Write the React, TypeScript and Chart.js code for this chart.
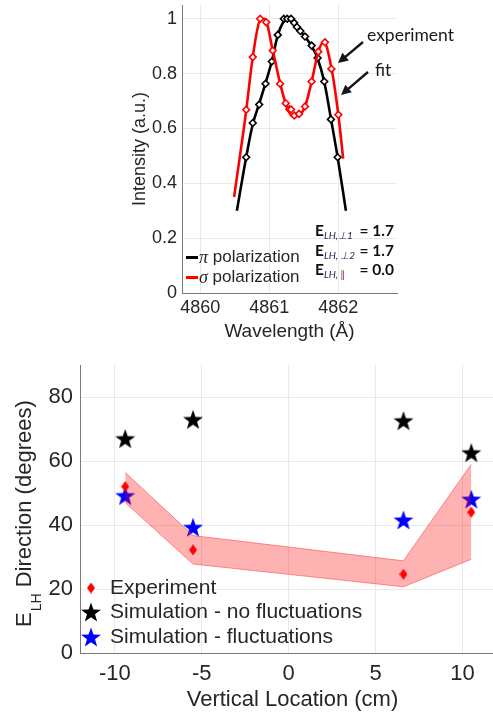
import React, { useEffect, useRef } from 'react';
import { Chart, registerables } from 'chart.js';

Chart.register(...registerables);

// ---- Spectrum panel (H-beta line, two polarizations) ----
const wavelengthTicks = [4860, 4861, 4862];
const intensityTicks = [0, 0.2, 0.4, 0.6, 0.8, 1];

const piExpX = [4860.665, 4860.76, 4860.853, 4860.945, 4861.036, 4861.123, 4861.21, 4861.26, 4861.315, 4861.36, 4861.4, 4861.45, 4861.517, 4861.613, 4861.7, 4861.796, 4861.893, 4861.99];
const piExpY = [0.495, 0.62, 0.687, 0.763, 0.844, 0.941, 1.0, 1.0, 1.0, 0.985, 0.97, 0.955, 0.935, 0.902, 0.857, 0.771, 0.633, 0.495];
const piFitX = [4860.53, 4860.665, 4860.76, 4860.853, 4860.945, 4861.036, 4861.123, 4861.21, 4861.28, 4861.36, 4861.45, 4861.517, 4861.613, 4861.7, 4861.796, 4861.893, 4861.99, 4862.11];
const piFitY = [0.3, 0.495, 0.615, 0.69, 0.765, 0.845, 0.94, 0.99, 1.0, 0.985, 0.955, 0.935, 0.9, 0.855, 0.77, 0.635, 0.495, 0.3];

const sigmaExpX = [4860.665, 4860.76, 4860.867, 4860.954, 4861.05, 4861.156, 4861.238, 4861.29, 4861.315, 4861.363, 4861.431, 4861.517, 4861.613, 4861.71, 4861.806, 4861.9, 4862.0];
const sigmaExpY = [0.668, 0.86, 1.0, 0.987, 0.884, 0.763, 0.692, 0.67, 0.669, 0.647, 0.653, 0.68, 0.771, 0.88, 0.914, 0.817, 0.65];
const sigmaFitX = [4860.49, 4860.665, 4860.76, 4860.867, 4860.93, 4861.05, 4861.156, 4861.238, 4861.33, 4861.4, 4861.517, 4861.613, 4861.71, 4861.79, 4861.9, 4862.0, 4862.07];
const sigmaFitY = [0.35, 0.665, 0.86, 0.995, 1.0, 0.885, 0.765, 0.69, 0.645, 0.645, 0.68, 0.77, 0.88, 0.915, 0.82, 0.65, 0.49];

const fieldLabels = ['LH,\u22A51', 'LH, \u22A52', 'LH, \u2225'];
const fieldValues = ['= 1.7', '= 1.7', '= 0.0'];

// ---- Direction panel ----
const locations = [-9.4, -5.5, 6.6, 10.5];
const experiment = [52, 32.2, 24.6, 44];
const simNoFluct = [67, 73, 72.6, 62.6];
const simFluct = [49.2, 39.3, 41.6, 48.1];
const bandUpper = [56.4, 36.7, 28.8, 59];
const bandLower = [47, 27.8, 20.7, 29.3];
const locationTicks = [-10, -5, 0, 5, 10];
const directionTicks = [0, 20, 40, 60, 80];

const SANS = '"Liberation Sans", Arial, sans-serif';
const NOTE = 'Lato, "Open Sans", sans-serif';
const TEXT = '#262626';
const GRID = '#e9e9e9';
const AXIS = '#7a7a7a';

const TOP_H = 345;
const BOT_H = 368;

const pts = (xs: number[], ys: number[]) => xs.map((x, i) => ({ x, y: ys[i] }));

function makeStar(color: string, size = 22): HTMLCanvasElement {
  const c = document.createElement('canvas');
  c.width = size;
  c.height = size;
  const g = c.getContext('2d')!;
  const R = size / 2 - 0.5;
  const r = R * 0.4;
  const cx = size / 2;
  const cy = size / 2 + 1;
  g.beginPath();
  for (let i = 0; i < 10; i++) {
    const a = -Math.PI / 2 + (i * Math.PI) / 5;
    const rad = i % 2 === 0 ? R : r;
    g.lineTo(cx + rad * Math.cos(a), cy + rad * Math.sin(a));
  }
  g.closePath();
  g.fillStyle = color;
  g.fill();
  return c;
}

function makeDiamond(color: string, w = 8, h = 11): HTMLCanvasElement {
  const c = document.createElement('canvas');
  c.width = w;
  c.height = h;
  const g = c.getContext('2d')!;
  g.beginPath();
  g.moveTo(w / 2, 0);
  g.lineTo(w, h / 2);
  g.lineTo(w / 2, h);
  g.lineTo(0, h / 2);
  g.closePath();
  g.fillStyle = color;
  g.fill();
  return c;
}

function drawArrow(ctx: CanvasRenderingContext2D, x1: number, y1: number, x2: number, y2: number) {
  const a = Math.atan2(y2 - y1, x2 - x1);
  const L = 10;
  const W = 5;
  ctx.beginPath();
  ctx.moveTo(x1, y1);
  ctx.lineTo(x2 - (L - 2) * Math.cos(a), y2 - (L - 2) * Math.sin(a));
  ctx.lineWidth = 2.4;
  ctx.strokeStyle = '#151515';
  ctx.stroke();
  ctx.beginPath();
  ctx.moveTo(x2, y2);
  ctx.lineTo(x2 - L * Math.cos(a) + W * Math.sin(a), y2 - L * Math.sin(a) - W * Math.cos(a));
  ctx.lineTo(x2 - L * Math.cos(a) - W * Math.sin(a), y2 - L * Math.sin(a) + W * Math.cos(a));
  ctx.closePath();
  ctx.fillStyle = '#151515';
  ctx.fill();
}

// pin axis box sizes so the plot area lands at fixed pixel positions
const fixBox = (w?: number, h?: number) => (scale: any) => {
  if (w !== undefined) scale.width = w;
  if (h !== undefined) scale.height = h;
  scale.paddingTop = 0;
  scale.paddingBottom = 0;
  scale.paddingLeft = 0;
  scale.paddingRight = 0;
};

const spectrumDecor = {
  id: 'spectrumDecor',
  afterDraw(chart: any) {
    const ctx: CanvasRenderingContext2D = chart.ctx;
    const { left, right, top, bottom } = chart.chartArea;
    ctx.save();
    ctx.fillStyle = TEXT;
    ctx.textAlign = 'center';
    ctx.textBaseline = 'middle';
    ctx.font = `19px ${SANS}`;
    ctx.fillText('Wavelength (\u00C5)', (left + right) / 2, 332);
    ctx.save();
    ctx.translate(140, (top + bottom) / 2);
    ctx.rotate(-Math.PI / 2);
    ctx.font = `18px ${SANS}`;
    ctx.fillText('Intensity (a.u.)', 0, 0);
    ctx.restore();

    // legend
    const legend = [
      { color: '#000000', sym: '\u03C0', y: 257.5 },
      { color: '#ff0000', sym: '\u03C3', y: 277.5 },
    ];
    ctx.textAlign = 'left';
    legend.forEach((it) => {
      ctx.beginPath();
      ctx.moveTo(186, it.y);
      ctx.lineTo(198, it.y);
      ctx.lineWidth = 3;
      ctx.strokeStyle = it.color;
      ctx.stroke();
      ctx.fillStyle = TEXT;
      ctx.font = `italic 18px "Liberation Serif", serif`;
      ctx.fillText(it.sym, 199, it.y + 1);
      const w = ctx.measureText(it.sym).width;
      ctx.font = `17px ${SANS}`;
      ctx.fillText(' polarization', 199 + w, it.y);
    });

    // experiment / fit callouts
    ctx.fillStyle = '#1a1a1a';
    ctx.font = `17.5px ${NOTE}`;
    ctx.fillText('experiment', 367, 35);
    ctx.fillText('fit', 375, 70);
    drawArrow(ctx, 363, 42, 338, 63);
    drawArrow(ctx, 368, 72, 341, 95);

    // field amplitudes
    const ys = [231, 250.5, 270];
    fieldLabels.forEach((lab, i) => {
      const y = ys[i];
      ctx.textAlign = 'left';
      ctx.fillStyle = '#111111';
      ctx.font = `bold 15.5px ${NOTE}`;
      ctx.fillText('E', 315, y);
      let x = 315 + ctx.measureText('E').width;
      const parts = i === 2 ? ['LH, ', '\u2225'] : [lab];
      parts.forEach((p, k) => {
        ctx.font = k === 0 ? `italic 10px ${NOTE}` : `10px "DejaVu Sans", sans-serif`;
        ctx.fillStyle = k === 0 ? '#23285e' : '#8c3b3b';
        ctx.fillText(p, x, y + 5);
        x += ctx.measureText(p).width;
      });
      ctx.textAlign = 'right';
      ctx.fillStyle = '#111111';
      ctx.font = `bold 15.5px ${NOTE}`;
      ctx.fillText(fieldValues[i], 394, y);
    });
    ctx.restore();
  },
};

function directionDecor(diamond: HTMLCanvasElement, blackStar: HTMLCanvasElement, blueStar: HTMLCanvasElement) {
  return {
    id: 'directionDecor',
    afterDraw(chart: any) {
      const ctx: CanvasRenderingContext2D = chart.ctx;
      const off = TOP_H;
      ctx.save();
      ctx.fillStyle = TEXT;
      ctx.textBaseline = 'middle';
      ctx.textAlign = 'center';
      ctx.font = `22px ${SANS}`;
      ctx.fillText('Vertical Location (cm)', 292.5, 700 - off);

      // rotated y title with subscript
      ctx.save();
      ctx.translate(24.5, 627 - off);
      ctx.rotate(-Math.PI / 2);
      ctx.textAlign = 'left';
      ctx.font = `22px ${SANS}`;
      ctx.fillText('E', 0, 0);
      let x = ctx.measureText('E').width + 1;
      ctx.font = `14px ${SANS}`;
      ctx.fillText('LH', x, 13);
      x += ctx.measureText('LH').width;
      ctx.font = `22px ${SANS}`;
      ctx.fillText(' Direction (degrees)', x, 0);
      ctx.restore();

      // legend
      const rows = [
        { img: diamond, label: 'Experiment', y: 588 },
        { img: blackStar, label: 'Simulation - no fluctuations', y: 612 },
        { img: blueStar, label: 'Simulation - fluctuations', y: 637 },
      ];
      ctx.textAlign = 'left';
      ctx.font = `21px ${SANS}`;
      rows.forEach((r) => {
        ctx.drawImage(r.img, 91 - r.img.width / 2, r.y - off - r.img.height / 2);
        ctx.fillStyle = TEXT;
        ctx.fillText(r.label, 110, r.y - off);
      });
      ctx.restore();
    },
  };
}

export default function App() {
  const topRef = useRef<HTMLCanvasElement>(null);
  const botRef = useRef<HTMLCanvasElement>(null);

  useEffect(() => {
    const diamond = makeDiamond('#ff0000');
    const blackStar = makeStar('#000000');
    const blueStar = makeStar('#0000ff');

    const top = new Chart(topRef.current!, {
      type: 'scatter',
      data: {
        datasets: [
          {
            label: 'pi fit',
            data: pts(piFitX, piFitY),
            showLine: true,
            cubicInterpolationMode: 'monotone',
            borderColor: '#000000',
            borderWidth: 2.6,
            pointRadius: 0,
            order: 4,
          },
          {
            label: 'pi experiment',
            data: pts(piExpX, piExpY),
            pointStyle: 'rectRot',
            pointRadius: 3.4,
            borderWidth: 1.6,
            borderColor: '#000000',
            backgroundColor: '#ffffff',
            order: 3,
          },
          {
            label: 'sigma fit',
            data: pts(sigmaFitX, sigmaFitY),
            showLine: true,
            cubicInterpolationMode: 'monotone',
            borderColor: '#ff0000',
            borderWidth: 2.6,
            pointRadius: 0,
            order: 2,
          },
          {
            label: 'sigma experiment',
            data: pts(sigmaExpX, sigmaExpY),
            pointStyle: 'rectRot',
            pointRadius: 3.4,
            borderWidth: 1.6,
            borderColor: '#ff0000',
            backgroundColor: '#ffffff',
            order: 1,
          },
        ],
      },
      options: {
        responsive: false,
        animation: false,
        events: [],
        layout: { autoPadding: false, padding: { left: 0, right: 96, top: 5, bottom: 0 } },
        plugins: { legend: { display: false }, tooltip: { enabled: false } },
        scales: {
          x: {
            type: 'linear',
            min: 4859.735,
            max: 4862.85,
            afterFit: fixBox(undefined, TOP_H - 293),
            afterBuildTicks: (s: any) => {
              s.ticks = wavelengthTicks.map((v) => ({ value: v }));
            },
            grid: { color: GRID, drawTicks: false },
            border: { display: true, color: AXIS, width: 1 },
            ticks: {
              padding: 4,
              color: TEXT,
              font: { family: SANS, size: 18 },
              callback: (v: any) => String(v),
            },
          },
          y: {
            type: 'linear',
            min: 0,
            max: 1.05,
            afterFit: fixBox(182, undefined),
            afterBuildTicks: (s: any) => {
              s.ticks = intensityTicks.map((v) => ({ value: v }));
            },
            grid: { color: GRID, drawTicks: false },
            border: { display: true, color: AXIS, width: 1 },
            ticks: {
              padding: 5,
              color: TEXT,
              font: { family: SANS, size: 18 },
              callback: (v: any) => String(v),
            },
          },
        },
      },
      plugins: [spectrumDecor],
    } as any);

    const bot = new Chart(botRef.current!, {
      type: 'scatter',
      data: {
        datasets: [
          {
            label: 'Experiment',
            data: pts(locations, experiment),
            pointStyle: diamond,
            order: 0,
          },
          {
            label: 'band lower',
            data: pts(locations, bandLower),
            showLine: true,
            borderColor: 'rgba(255,60,60,0.55)',
            borderWidth: 1,
            pointRadius: 0,
            fill: false,
            order: 1,
          },
          {
            label: 'band upper',
            data: pts(locations, bandUpper),
            showLine: true,
            borderColor: 'rgba(255,60,60,0.55)',
            borderWidth: 1,
            pointRadius: 0,
            fill: '-1',
            backgroundColor: 'rgba(255,0,0,0.3)',
            order: 1,
          },
          {
            label: 'Simulation - fluctuations',
            data: pts(locations, simFluct),
            pointStyle: blueStar,
            order: 2,
          },
          {
            label: 'Simulation - no fluctuations',
            data: pts(locations, simNoFluct),
            pointStyle: blackStar,
            order: 3,
          },
        ],
      },
      options: {
        responsive: false,
        animation: false,
        events: [],
        layout: { autoPadding: false, padding: { left: 0, right: 0, top: 20, bottom: 0 } },
        plugins: { legend: { display: false }, tooltip: { enabled: false } },
        scales: {
          x: {
            type: 'linear',
            min: -12,
            max: 11.75,
            afterFit: fixBox(undefined, BOT_H - 308),
            afterBuildTicks: (s: any) => {
              s.ticks = locationTicks.map((v) => ({ value: v }));
            },
            grid: { color: GRID, drawTicks: false },
            border: { display: true, color: AXIS, width: 1 },
            ticks: {
              padding: 8,
              color: TEXT,
              font: { family: SANS, size: 22 },
              callback: (v: any) => String(v),
            },
          },
          y: {
            type: 'linear',
            min: 0,
            max: 90,
            afterFit: fixBox(80, undefined),
            afterBuildTicks: (s: any) => {
              s.ticks = directionTicks.map((v) => ({ value: v }));
            },
            grid: { color: GRID, drawTicks: false },
            border: { display: true, color: AXIS, width: 1 },
            ticks: {
              padding: 7,
              color: TEXT,
              font: { family: SANS, size: 22 },
              callback: (v: any) => String(v),
            },
          },
        },
      },
      plugins: [directionDecor(diamond, blackStar, blueStar)],
    } as any);

    return () => {
      top.destroy();
      bot.destroy();
    };
  }, []);

  return (
    <div style={{ position: 'absolute', left: 0, top: 0, width: 493, height: 713, background: '#ffffff', overflow: 'hidden' }}>
      <canvas ref={topRef} width={493} height={TOP_H} style={{ position: 'absolute', left: 0, top: 0, width: 493, height: TOP_H }} />
      <canvas ref={botRef} width={493} height={BOT_H} style={{ position: 'absolute', left: 0, top: TOP_H, width: 493, height: BOT_H }} />
    </div>
  );
}
